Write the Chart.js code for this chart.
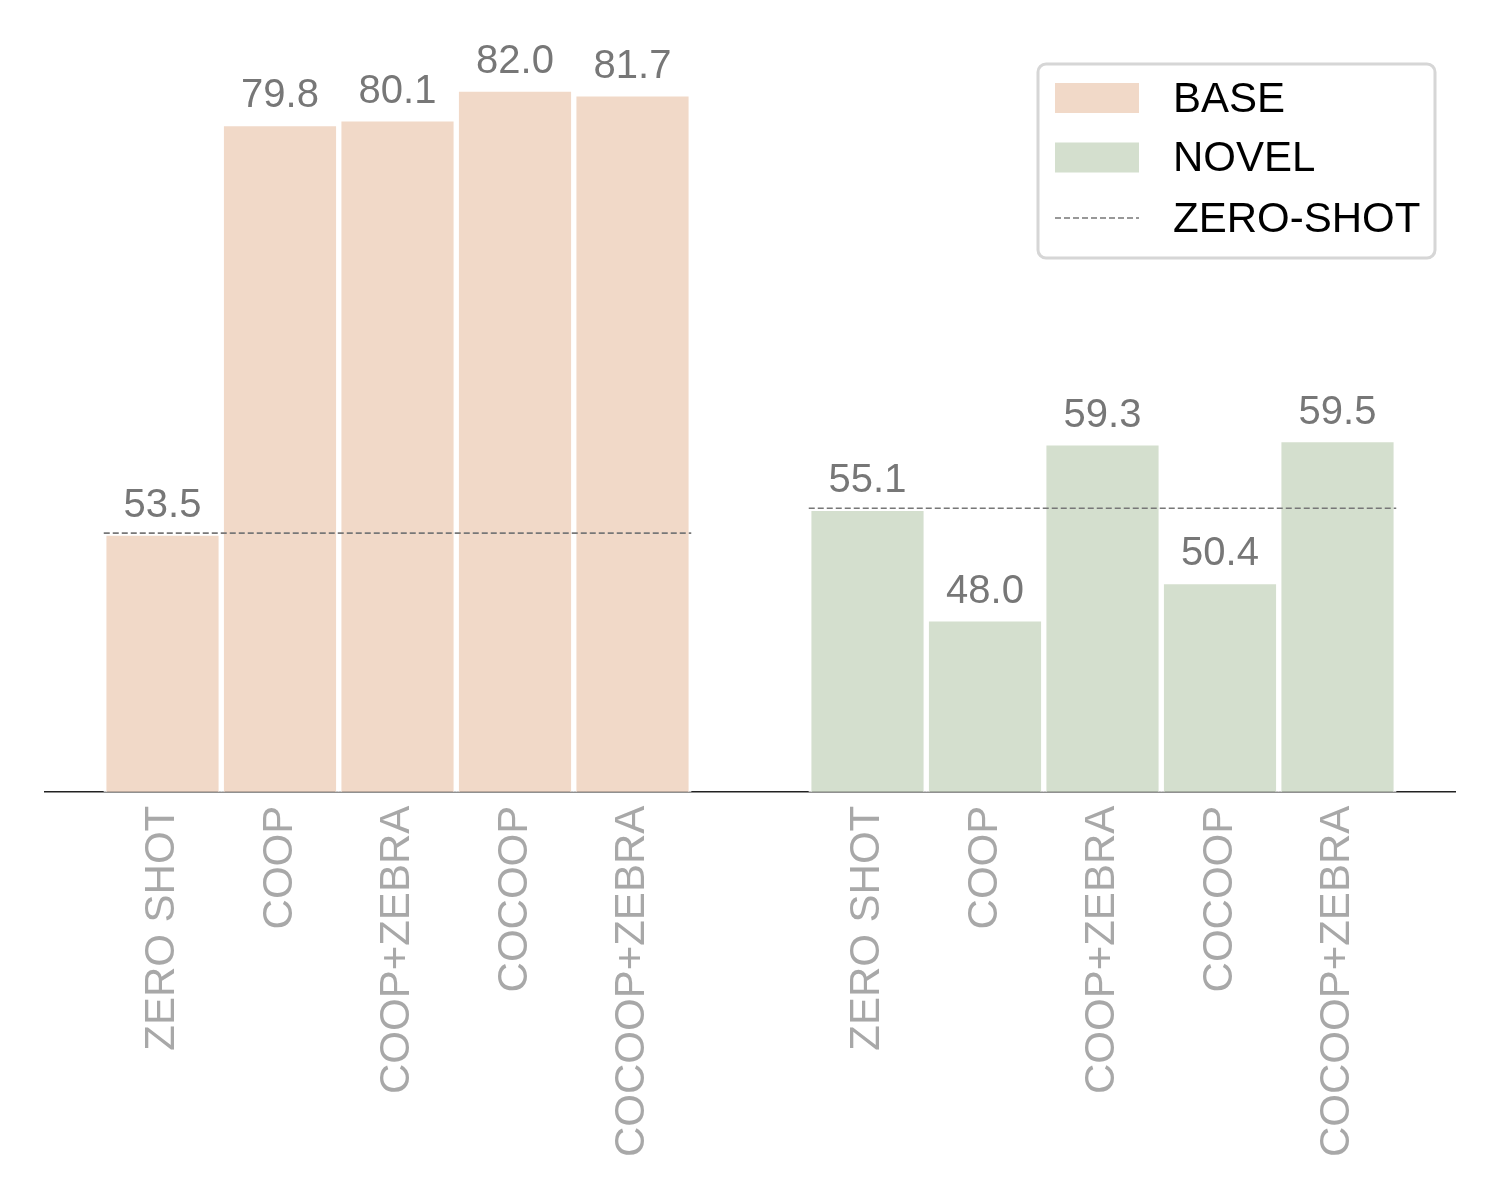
<!DOCTYPE html>
<html>
<head>
<meta charset="utf-8">
<script src="https://cdn.jsdelivr.net/npm/chart.js@4/dist/chart.umd.min.js"></script>
<style>
  body { margin: 0; background: #fff; }
  #wrap { width: 1500px; height: 1200px; }
</style>
</head>
<body>
<div id="wrap"><canvas id="chart" width="1500" height="1200"></canvas></div>
<script>
const methods = ["ZERO SHOT", "COOP", "COOP+ZEBRA", "COCOOP", "COCOOP+ZEBRA"];
const baseValues = [53.5, 79.8, 80.1, 82.0, 81.7];
const novelValues = [55.1, 48.0, 59.3, 50.4, 59.5];
const seriesNames = ["BASE", "NOVEL", "ZERO-SHOT"];
const baseColor = "#f1d9c8";
const novelColor = "#d4dfce";
const FONT = "'Liberation Sans', Arial, Helvetica, sans-serif";

// one empty slot on each side and one between the groups
const labels = ["", ...methods, "", ...methods, ""];
const gap = methods.length + 1;
const blanks = (n) => Array(n).fill(null);
const baseData = [null, ...baseValues, ...blanks(methods.length + 2)];
const novelData = [...blanks(gap + 1), ...novelValues, null];

// zero-shot reference lines span each group's bars
const baseZero = [
  { x: 0.5, y: baseValues[0] },
  { x: methods.length + 0.5, y: baseValues[0] },
];
const novelZero = [
  { x: gap + 0.5, y: novelValues[0] },
  { x: gap + methods.length + 0.5, y: novelValues[0] },
];

const valueLabels = {
  id: "valueLabels",
  afterDatasetsDraw(chart) {
    const ctx = chart.ctx;
    ctx.save();
    ctx.font = "40px " + FONT;
    ctx.fillStyle = "#777777";
    ctx.textAlign = "center";
    ctx.textBaseline = "alphabetic";
    chart.data.datasets.forEach((ds, i) => {
      if (ds.type !== "bar") return;
      chart.getDatasetMeta(i).data.forEach((bar, j) => {
        const v = ds.data[j];
        if (v === null) return;
        ctx.fillText(v.toFixed(1), bar.x, bar.y - 16);
      });
    });
    ctx.restore();
  },
};

const boxLegend = {
  id: "boxLegend",
  afterDraw(chart) {
    const ctx = chart.ctx;
    const area = chart.chartArea;
    const w = 397, h = 194;
    const x = area.right - 20 - w;
    const y = area.top + 34;
    ctx.save();
    ctx.fillStyle = "rgba(255,255,255,0.8)";
    ctx.strokeStyle = "#d6d6d6";
    ctx.lineWidth = 3;
    ctx.beginPath();
    ctx.roundRect(x, y, w, h, 8);
    ctx.fill();
    ctx.stroke();

    const rows = [y + 34, y + 93.5, y + 154];
    ctx.fillStyle = baseColor;
    ctx.fillRect(x + 17, rows[0] - 15, 84, 30);
    ctx.fillStyle = novelColor;
    ctx.fillRect(x + 17, rows[1] - 15, 84, 30);
    ctx.strokeStyle = "#777777";
    ctx.lineWidth = 1.6;
    ctx.setLineDash([6, 3]);
    ctx.beginPath();
    ctx.moveTo(x + 17, rows[2]);
    ctx.lineTo(x + 101, rows[2]);
    ctx.stroke();
    ctx.setLineDash([]);

    ctx.font = "42px " + FONT;
    ctx.fillStyle = "#000";
    ctx.textAlign = "left";
    ctx.textBaseline = "middle";
    seriesNames.forEach((name, i) => {
      ctx.fillText(name, x + 135, rows[i] + 2);
    });
    ctx.restore();
  },
};

const zeroLine = (data) => ({
  type: "line",
  label: seriesNames[2],
  data: data,
  xAxisID: "x2",
  borderColor: "#777777",
  borderWidth: 1.6,
  borderDash: [6, 3],
  pointRadius: 0,
  fill: false,
  order: 0,
});

new Chart(document.getElementById("chart"), {
  type: "bar",
  data: {
    labels: labels,
    datasets: [
      {
        type: "bar",
        label: seriesNames[0],
        data: baseData,
        backgroundColor: baseColor,
        borderColor: "#ffffff",
        borderWidth: 3,
        borderSkipped: false,
        grouped: false,
        barPercentage: 1,
        categoryPercentage: 1,
        order: 1,
      },
      {
        type: "bar",
        label: seriesNames[1],
        data: novelData,
        backgroundColor: novelColor,
        borderColor: "#ffffff",
        borderWidth: 3,
        borderSkipped: false,
        grouped: false,
        barPercentage: 1,
        categoryPercentage: 1,
        order: 1,
      },
      zeroLine(baseZero),
      zeroLine(novelZero),
    ],
  },
  options: {
    responsive: false,
    animation: false,
    layout: { padding: { left: 45, right: 45, top: 30, bottom: 37 } },
    plugins: {
      legend: { display: false },
      tooltip: { enabled: false },
    },
    scales: {
      x: {
        type: "category",
        offset: false,
        grid: { display: false },
        border: { display: true, color: "#222222", width: 1.5 },
        ticks: {
          autoSkip: false,
          maxRotation: 90,
          minRotation: 90,
          padding: 6,
          color: "#a8a8a8",
          font: { size: 42, family: FONT },
        },
        afterFit(scale) {
          scale.paddingLeft = 0;
          scale.paddingRight = 0;
        },
      },
      x2: {
        type: "linear",
        display: false,
        offset: false,
        min: 0,
        max: labels.length - 1,
      },
      y: {
        display: false,
        min: 36.9,
        max: 85.8,
      },
    },
  },
  plugins: [valueLabels, boxLegend],
});
</script>
</body>
</html>
